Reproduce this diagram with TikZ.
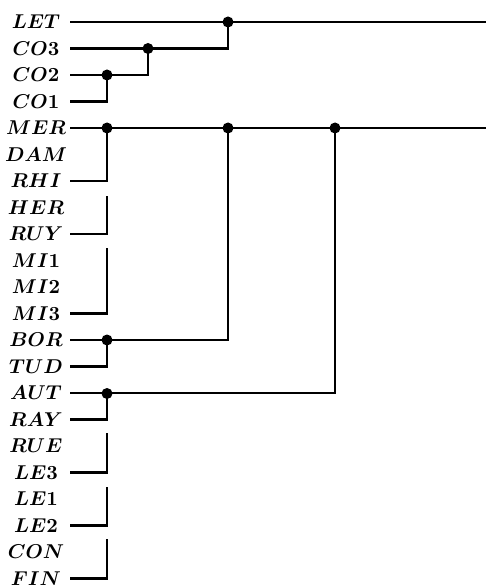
\documentclass[tikz,border=0pt]{standalone}
\usepackage{amsmath}
\usepackage{tikz}
\usetikzlibrary{calc, positioning}

\begin{document}
\begin{tikzpicture}[
    x=1pt, y=-1pt,
    line width=2.4pt,
    leaf/.style={scale=2.0, minimum width=32pt, inner sep=0pt, align=center, font=\boldmath},
    joint/.style={circle, fill=black, inner sep=0pt, minimum size=11pt}
]
    \useasboundingbox (0,0) rectangle (486,588);

    % 1. LEAVES
    \foreach \name/\txt [count=\i from 0] in {let/LET, co3/CO3, co2/CO2, co1/CO1, mer/MER, dam/DAM, rhi/RHI, her/HER, ruy/RUY, mi1/MI1, mi2/MI2, mi3/MI3, bor/BOR, tud/TUD, aut/AUT, ray/RAY, rue/RUE, le3/LE3, le1/LE1, le2/LE2, con/CON, fin/FIN} {
        \node[leaf] (\name) at (36, 22+26.5*\i) {$\txt$};
    }

    % 2. JOINTS
    \node[joint] (jco) at (107, 75) {};
    \node[joint] (jco3) at (148, 48.5) {};
    \node[joint] (jlet) at (228, 22) {};
    \node[joint] (jmer) at (107, 128) {};
    \node[joint] (jbor) at (228, 128) {};
    \node[joint] (jaut) at (335, 128) {};
    \node[joint] (jtud) at (107, 340) {};
    \node[joint] (jray) at (107, 393.5) {};
    \coordinate (letend) at (486, 22);
    \coordinate (merend) at (486, 128);

    % open brackets (tops)
    \coordinate (hertop) at (107, 196);
    \coordinate (mitop) at (107, 248);
    \coordinate (ruetop) at (107, 433);
    \coordinate (letop) at (107, 487);
    \coordinate (contop) at (107, 539);

    % 3. UPPER TREE
    \draw (let.east) -- (letend);
    \draw (co3.east) -| (jlet.center);
    \draw (co2.east) -| (jco3.center);
    \draw (co1.east) -| (jco.center);

    % 4. MIDDLE TREE
    \draw (mer.east) -- (merend);
    \draw (rhi.east) -| (jmer.center);
    \draw (hertop) |- (ruy.east);
    \draw (mitop) |- (mi3.east);
    \draw (bor.east) -| (jbor.center);
    \draw (tud.east) -| (jtud.center);
    \draw (aut.east) -| (jaut.center);
    \draw (ray.east) -| (jray.center);

    % 5. LOWER BRACKETS
    \draw (ruetop) |- (le3.east);
    \draw (letop) |- (le2.east);
    \draw (contop) |- (fin.east);

\end{tikzpicture}
\end{document}
